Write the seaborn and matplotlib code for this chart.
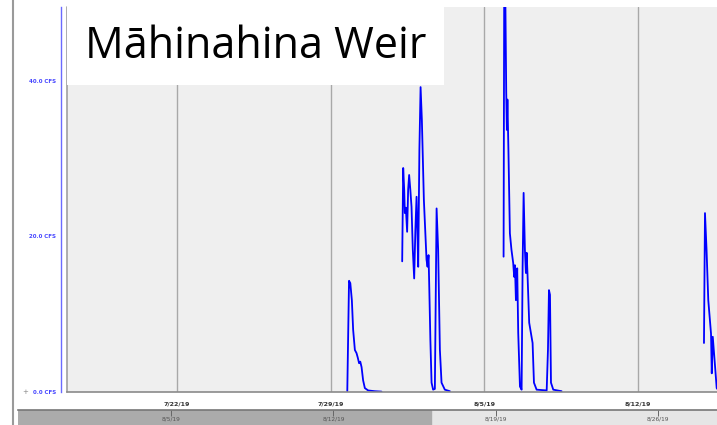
import numpy as np
import pandas as pd
import matplotlib
matplotlib.use("Agg")
import matplotlib.pyplot as plt
from matplotlib.lines import Line2D
from matplotlib.patches import Rectangle
import seaborn as sns

# Flow readings, hours after 7/29/19 00:00 and flow in CFS (gaps between events = no data)
t0 = pd.Timestamp("2019-07-29 00:00")

event1_hours = [18.3, 20.2, 21.6, 23.3, 24.7, 26.6, 28.4, 29.8, 31.2, 32.5, 33.9, 35.6, 37.5, 41.1, 48.4, 55.7]
event1_cfs = [0.1, 14.3, 14.0, 11.8, 8.0, 5.4, 5.0, 4.4, 3.7, 3.9, 3.2, 1.5, 0.5, 0.2, 0.1, 0.05]

event2_hours = [78.3, 79.4, 80.5, 81.2, 82.3, 83.7, 84.8, 85.9, 87.2, 88.5, 89.9, 91.4, 92.7, 94.0, 94.9,
                95.8, 97.1, 98.4, 99.8, 102.0, 104.9, 106.0, 107.1, 107.8, 109.1, 110.4, 112.1, 114.0,
                115.9, 117.6, 119.5, 121.3, 124.9, 130.4]
event2_cfs = [16.8, 28.8, 26.0, 23.0, 23.7, 20.6, 26.0, 27.9, 26.0, 23.8, 18.3, 14.6, 20.8, 25.1, 20.8,
              16.1, 31.1, 39.2, 35.0, 24.7, 17.0, 16.1, 17.6, 14.0, 6.7, 1.2, 0.3, 0.4,
              23.6, 18.3, 5.4, 1.2, 0.3, 0.1]

event3_hours = [189.1, 189.8, 190.6, 192.0, 192.7, 193.3, 194.4, 196.0, 197.7, 199.6, 200.7, 201.5,
                202.6, 204.0, 205.1, 207.0, 208.8, 209.9, 211.0, 212.4, 213.5, 214.3, 215.2, 217.1,
                220.8, 222.3, 225.2, 236.2, 237.6, 238.7, 239.8, 240.9, 243.4, 252.5]
event3_cfs = [17.4, 52.0, 56.0, 38.5, 33.7, 37.6, 31.1, 20.4, 18.3, 16.6, 14.8, 16.3,
              11.8, 15.9, 7.6, 0.7, 0.3, 16.1, 25.6, 18.3, 15.3, 17.9, 15.3, 8.9,
              6.3, 1.2, 0.3, 0.2, 5.4, 13.1, 12.5, 1.2, 0.3, 0.1]

event4_hours = [408.1, 409.2, 410.9, 412.8, 415.8, 416.6, 417.7, 420.2, 422.0, 424.0]
event4_cfs = [6.3, 23.0, 18.3, 11.8, 7.5, 2.4, 7.1, 3.3, 0.5, 0.2]

events = [(event1_hours, event1_cfs), (event2_hours, event2_cfs),
          (event3_hours, event3_cfs), (event4_hours, event4_cfs)]

view_start, view_end = pd.Timestamp("2019-07-17 00:00"), pd.Timestamp("2019-08-15 14:20")
week_ticks = pd.to_datetime(["2019-07-22", "2019-07-29", "2019-08-05", "2019-08-12"])
week_labels = ["7/22/19", "7/29/19", "8/5/19", "8/12/19"]
cfs_max = 49.5
cfs_ticks = [0, 20, 40]
cfs_labels = ["0.0 CFS", "20.0 CFS", "40.0 CFS"]

nav_start, nav_end = pd.Timestamp("2019-07-29 09:00"), pd.Timestamp("2019-08-28 13:30")
nav_sel_end = pd.Timestamp("2019-08-16 05:00")
nav_ticks = pd.to_datetime(["2019-08-05", "2019-08-12", "2019-08-19", "2019-08-26"])
nav_labels = ["8/5/19", "8/12/19", "8/19/19", "8/26/19"]

title = "Māhinahina Weir"

sns.set_style("white")
plt.rcParams['font.family'] = ['DejaVu Sans']

W, H = 717, 425
fig = plt.figure(figsize=(W / 100, H / 100), dpi=100)
fig.patch.set_facecolor("white")

ax = fig.add_axes([67 / W, 33 / H, 650 / W, 385 / H])
ax.set_facecolor("#efefef")

for hrs, vals in events:
    df = pd.DataFrame({"time": t0 + pd.to_timedelta(hrs, unit="h"), "cfs": vals})
    sns.lineplot(data=df, x="time", y="cfs", ax=ax, color="#0000ff", linewidth=1.3, sort=False)

# spines first (moving a spine resets tick styling)
for s in ["top", "right"]:
    ax.spines[s].set_visible(False)
ax.spines["bottom"].set_color("#8a8a8a")
ax.spines["bottom"].set_linewidth(1.2)
ax.spines["left"].set_position(("outward", 4))
ax.spines["left"].set_color("#6a6aff")
ax.spines["left"].set_linewidth(1.0)

ax.set_xlim(view_start, view_end)
ax.set_ylim(0, cfs_max)
ax.set_xlabel("")
ax.set_ylabel("")

for d in week_ticks:
    ax.axvline(d, color="#a8a8a8", linewidth=1.0, zorder=0)

ax.set_xticks(week_ticks)
ax.set_xticklabels(week_labels, fontsize=4.5, color="#333333", fontweight="bold")
ax.tick_params(axis="x", length=0, pad=7)

ax.set_yticks(cfs_ticks)
ax.set_yticklabels(cfs_labels, fontsize=4.0, color="#4545ff", fontweight="bold")
ax.tick_params(axis="y", length=3, width=0.8, color="#5050ff", pad=1, direction="out")

# grey frame edge on the plot's left side
ax.plot([0, 0], [0, 1], transform=ax.transAxes, color="#a0a0a0", linewidth=1.2, clip_on=False)

# title box
fig.add_artist(Rectangle((67 / W, 1 - 85 / H), 377 / W, 85 / H, transform=fig.transFigure,
                         facecolor="white", edgecolor="none", zorder=5))
fig.text(256 / W, 1 - 47 / H, title, ha="center", va="center", fontsize=31,
         family=["Open Sans", "DejaVu Sans"], color="black", zorder=6)

# navigator strip
nav = fig.add_axes([18 / W, 0, 699 / W, 15 / H])
nav.set_xlim(nav_start, nav_end)
nav.set_ylim(0, 1)
nav.set_facecolor("#e6e6e6")
nav.axvspan(nav_start, nav_sel_end, color="#ababab", zorder=0)
nav.set_xticks(nav_ticks)
nav.set_xticklabels(nav_labels, fontsize=4.2, color="#555555")
nav.tick_params(axis="x", top=True, bottom=False, labeltop=False, labelbottom=True,
                direction="in", length=4, pad=-6.2, color="#666666", width=0.7)
nav.set_yticks([])
for s in ["left", "right", "bottom"]:
    nav.spines[s].set_visible(False)
nav.spines["top"].set_color("#777777")
nav.spines["top"].set_linewidth(1.2)

# left edge line and zoom button
fig.add_artist(Line2D([13 / W, 13 / W], [0, 1], color="#9a9a9a", linewidth=1.5))
fig.text(25 / W, 1 - 392 / H, "+", ha="center", va="center", fontsize=5, color="#888888")

fig.savefig("out.png", dpi=100)
